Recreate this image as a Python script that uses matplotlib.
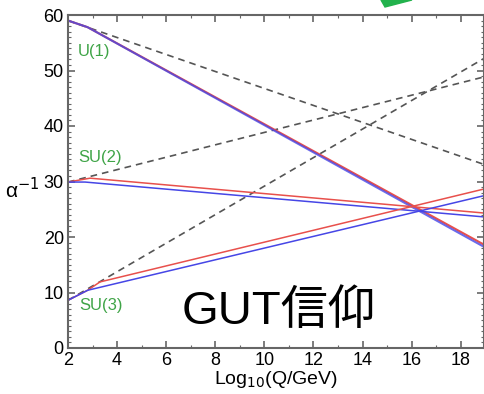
import matplotlib
matplotlib.use("Agg")
import matplotlib.pyplot as plt
from matplotlib.ticker import MultipleLocator
from matplotlib.patches import Polygon

plt.rcParams['font.family'] = ['Liberation Sans', 'Noto Sans CJK JP', 'DejaVu Sans']

# Standard Model (dashed) running couplings
sm_x = [2, 19]
sm_u1 = [59.0, 33.0]
sm_su2 = [29.9, 48.9]
sm_su3 = [8.6, 52.3]

# MSSM running couplings (two threshold choices: red and blue)
u1_red_x = [2, 2.8, 19]
u1_red_y = [59.0, 57.8, 18.5]
u1_blue_x = [2, 2.8, 19]
u1_blue_y = [59.0, 57.8, 18.1]

su2_red_x = [2, 2.9, 19]
su2_red_y = [29.9, 30.6, 24.3]
su2_blue_x = [2, 2.7, 19]
su2_blue_y = [29.9, 29.9, 23.6]

su3_red_x = [2, 2.8, 3.3, 19]
su3_red_y = [8.6, 10.4, 11.9, 28.7]
su3_blue_x = [2, 2.8, 19]
su3_blue_y = [8.6, 10.4, 27.5]

labels = ["U(1)", "SU(2)", "SU(3)"]
label_pos = [(2.4, 53.5), (2.4, 34.3), (2.45, 7.7)]

W, H = 485, 394
fig = plt.figure(figsize=(W/100, H/100), dpi=100)
ax = fig.add_axes([68/W, 1-348/H, (484-68)/W, (348-15)/H])

red = '#e8504c'
blue = '#4646e6'
dash = '#555555'

for y in (sm_u1, sm_su2, sm_su3):
    ax.plot(sm_x, y, color=dash, lw=1.2, ls=(0, (4, 3)))

ax.plot(u1_red_x, u1_red_y, color=red, lw=1.5)
ax.plot(u1_blue_x, u1_blue_y, color=blue, lw=1.5, alpha=0.8)
ax.plot(su2_red_x, su2_red_y, color=red, lw=1.1)
ax.plot(su2_blue_x, su2_blue_y, color=blue, lw=1.1)
ax.plot(su3_red_x, su3_red_y, color=red, lw=1.1)
ax.plot(su3_blue_x, su3_blue_y, color=blue, lw=1.1)

for lab, (lx, ly) in zip(labels, label_pos):
    ax.text(lx, ly, lab, color='#3fa447', fontsize=12, ha='left', va='center')

ax.text(10.6, 6.5, "GUT信仰", fontsize=34, color='black', ha='center', va='center')

ax.set_xlim(2, 18.95)
ax.set_ylim(0, 60)
ax.xaxis.set_major_locator(MultipleLocator(2))
ax.xaxis.set_minor_locator(MultipleLocator(1))
ax.yaxis.set_major_locator(MultipleLocator(10))
ax.yaxis.set_minor_locator(MultipleLocator(1))
ax.tick_params(which='both', direction='in', top=True, right=True, color='#666666')
ax.tick_params(which='major', length=5, width=1.2, labelsize=13, pad=3)
ax.tick_params(which='minor', length=2.5, width=0.8)
for s in ax.spines.values():
    s.set_color('#666666')
    s.set_linewidth(1.5)

ax.set_xlabel("Log$_{10}$(Q/GeV)", fontsize=14, labelpad=0)
fig.text(22/W, 1-190/H, "α$^{-1}$", fontsize=15, ha='center', va='center')

# green arrow fragment at top
fig.patches.append(Polygon([[381/W, 1.0], [412/W, 1.0], [385/W, 1-7/H]],
                           closed=True, transform=fig.transFigure,
                           color='#22b24c', zorder=5))

fig.savefig("out.png", dpi=100)
